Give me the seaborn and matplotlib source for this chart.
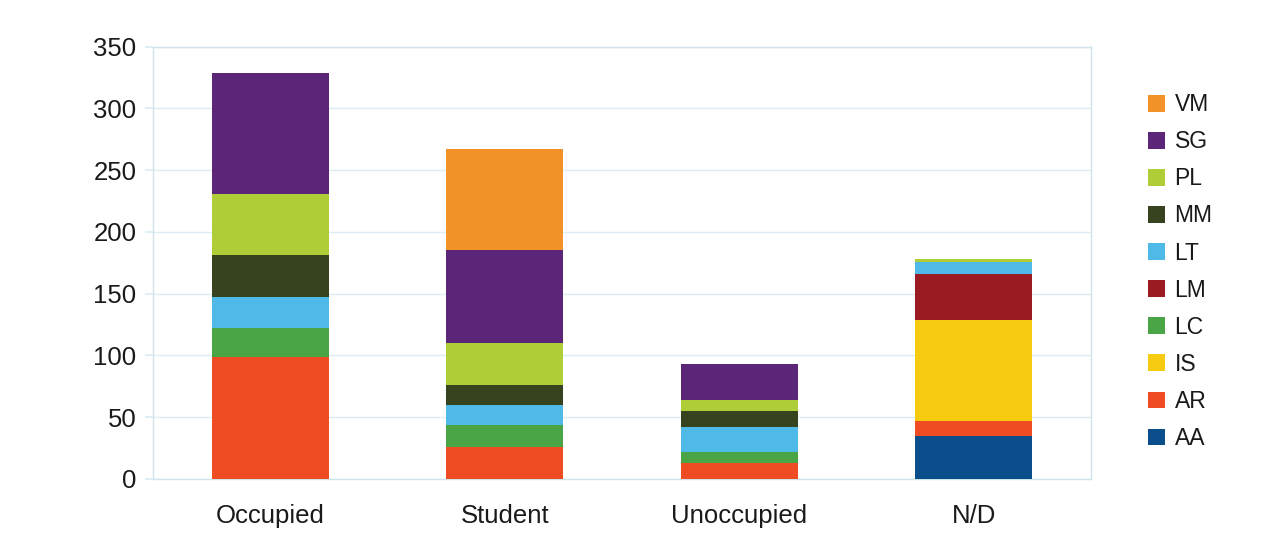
import matplotlib
matplotlib.use("Agg")
import matplotlib.pyplot as plt
import seaborn as sns
import pandas as pd
import numpy as np
from matplotlib.patches import Patch

categories = ["Occupied", "Student", "Unoccupied", "N/D"]
# stacking order, bottom to top
series = ["AA", "AR", "IS", "LC", "LM", "LT", "MM", "PL", "SG", "VM"]
AA = [0, 0, 0, 35]
AR = [99, 26, 13, 12]
IS = [0, 0, 0, 82]
LC = [23, 18, 9, 0]
LM = [0, 0, 0, 37]
LT = [25, 16, 20, 10]
MM = [34, 16, 13, 0]
PL = [50, 34, 9, 2]
SG = [98, 75, 29, 0]
VM = [0, 82, 0, 0]
values = {"AA": AA, "AR": AR, "IS": IS, "LC": LC, "LM": LM,
          "LT": LT, "MM": MM, "PL": PL, "SG": SG, "VM": VM}
colors = {"AA": "#0a4f8c", "AR": "#ef4c23", "IS": "#f7cb10", "LC": "#4aa546",
          "LM": "#9a1b22", "LT": "#4fb9e8", "MM": "#37431f", "PL": "#aecd36",
          "SG": "#5c2678", "VM": "#f39229"}
yticks = [0, 50, 100, 150, 200, 250, 300, 350]

sns.set_theme(style="white")
plt.rcParams["font.family"] = ["Liberation Sans", "DejaVu Sans"]

fig = plt.figure(figsize=(12.73, 5.42), dpi=100)
ax = fig.add_axes([153 / 1273, 1 - 479 / 542, (1091 - 153) / 1273, (479 - 46.7) / 542])

cum = np.zeros(len(categories))
cums = []
for s in series:
    cum = cum + np.array(values[s])
    cums.append(cum.copy())

# draw cumulative totals from top layer down so each lower layer overlays
for s, c in reversed(list(zip(series, cums))):
    df = pd.DataFrame({"cat": categories, "val": c})
    sns.barplot(data=df, x="cat", y="val", color=colors[s], width=0.5,
                saturation=1, ax=ax, zorder=3, linewidth=0)

grid_c = "#dcedf3"
ax.set_ylim(0, 350)
ax.set_xlim(-0.5, 3.5)
ax.set_yticks(yticks)
ax.set_yticklabels([str(t) for t in yticks])
ax.yaxis.grid(True, color=grid_c, linewidth=1, zorder=0)
ax.set_axisbelow(True)
for sp in ax.spines.values():
    sp.set_color("#cfe3ea")
    sp.set_linewidth(1)
ax.tick_params(axis="y", which="both", left=True, length=6, color=grid_c,
               labelsize=18.5, labelcolor="#1a1a1a", pad=6)
ax.tick_params(axis="x", bottom=False, labelsize=18.5, labelcolor="#1a1a1a", pad=12)
ax.set_xlabel("")
ax.set_ylabel("")

handles = [Patch(facecolor=colors[s], edgecolor="none", label=s) for s in reversed(series)]
leg = fig.legend(handles=handles, loc="upper left", bbox_to_anchor=(1139 / 1273, 1 - 84 / 542),
                 frameon=False, fontsize=16.5, handlelength=0.75, handleheight=0.75,
                 handletextpad=0.4, labelspacing=0.615, borderaxespad=0)
for t in leg.get_texts():
    t.set_color("#1a1a1a")

fig.savefig("out.png", dpi=100)
